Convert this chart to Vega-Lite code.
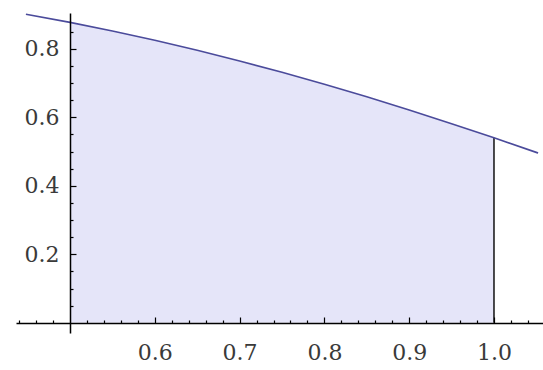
{
  "$schema": "https://vega.github.io/schema/vega-lite/v6.json",
  "width": 527,
  "height": 320,
  "autosize": {"type": "none"},
  "padding": {"left": 16, "top": 13, "right": 0, "bottom": 37},
  "background": "white",
  "config": {"view": {"stroke": null}, "axis": {"grid": false, "title": null}},
  "datasets": {
    "curve": [
      {"x": 0.448, "y": 0.9013},
      {"x": 0.5, "y": 0.8776},
      {"x": 0.55, "y": 0.8525},
      {"x": 0.6, "y": 0.8253},
      {"x": 0.65, "y": 0.7961},
      {"x": 0.7, "y": 0.7648},
      {"x": 0.75, "y": 0.7317},
      {"x": 0.8, "y": 0.6967},
      {"x": 0.85, "y": 0.66},
      {"x": 0.9, "y": 0.6216},
      {"x": 0.95, "y": 0.5817},
      {"x": 1.0, "y": 0.5403},
      {"x": 1.052, "y": 0.4959}
    ],
    "edge": [{"x": 1.0, "y": 0.5403, "y0": 0}]
  },
  "resolve": {"axis": {"x": "independent", "y": "independent"}},
  "layer": [
    {
      "data": {"name": "curve"},
      "transform": [{"filter": "datum.x >= 0.5 && datum.x <= 1.0"}],
      "mark": {"type": "area", "color": "#e5e5f9", "interpolate": "monotone"},
      "encoding": {
        "x": {
          "field": "x", "type": "quantitative",
          "scale": {"domain": [0.4363, 1.0578], "nice": false, "zero": false},
          "axis": {
            "orient": "top", "offset": -310, "domain": false, "labels": false, "zindex": 3,
            "values": [0.44,0.46,0.48,0.52,0.54,0.56,0.58,0.62,0.64,0.66,0.68,0.72,0.74,0.76,0.78,0.82,0.84,0.86,0.88,0.92,0.94,0.96,0.98,1.02,1.04],
            "tickColor": "#000", "tickWidth": 1.2, "tickSize": 3
          }
        },
        "y": {
          "field": "y", "type": "quantitative",
          "scale": {"domain": [-0.03, 0.905], "nice": false, "zero": false},
          "axis": {
            "orient": "right", "offset": -473, "domain": false, "labels": false, "zindex": 3,
            "values": [0.05,0.1,0.15,0.25,0.3,0.35,0.45,0.5,0.55,0.65,0.7,0.75,0.85],
            "tickColor": "#000", "tickWidth": 1.2, "tickSize": 3
          }
        },
        "y2": {"datum": 0}
      }
    },
    {
      "data": {"name": "edge"},
      "mark": {"type": "rule", "color": "#111", "strokeWidth": 1.5},
      "encoding": {
        "x": {
          "field": "x", "type": "quantitative",
          "axis": {
            "orient": "top", "offset": -310, "domain": false, "labels": false, "zindex": 3,
            "values": [0.6, 0.7, 0.8, 0.9, 1.0],
            "tickColor": "#000", "tickWidth": 1.2, "tickSize": 6
          }
        },
        "y": {
          "field": "y", "type": "quantitative",
          "axis": {
            "orient": "right", "offset": -473, "domain": false, "labels": false, "zindex": 3,
            "values": [0.2, 0.4, 0.6, 0.8],
            "tickColor": "#000", "tickWidth": 1.2, "tickSize": 6
          }
        },
        "y2": {"field": "y0"}
      }
    },
    {
      "data": {"name": "curve"},
      "mark": {"type": "line", "color": "#4b4b9b", "strokeWidth": 1.6, "interpolate": "monotone"},
      "encoding": {
        "x": {
          "field": "x", "type": "quantitative",
          "axis": {
            "orient": "bottom", "offset": -10, "ticks": false, "zindex": 3,
            "values": [0.6, 0.7, 0.8, 0.9, 1.0], "format": ".1f",
            "domainColor": "#000", "domainWidth": 1.5,
            "labelFont": "DejaVu Serif", "labelFontSize": 22, "labelColor": "#3a3a3a",
            "labelPadding": 19, "labelFlush": false, "labelOverlap": false
          }
        },
        "y": {
          "field": "y", "type": "quantitative",
          "axis": {
            "orient": "left", "offset": -54, "ticks": false, "zindex": 3,
            "values": [0.2, 0.4, 0.6, 0.8], "format": ".1f",
            "domainColor": "#000", "domainWidth": 1.5,
            "labelFont": "DejaVu Serif", "labelFontSize": 22, "labelColor": "#3a3a3a",
            "labelPadding": 11, "labelFlush": false, "labelOverlap": false
          }
        }
      }
    }
  ]
}
